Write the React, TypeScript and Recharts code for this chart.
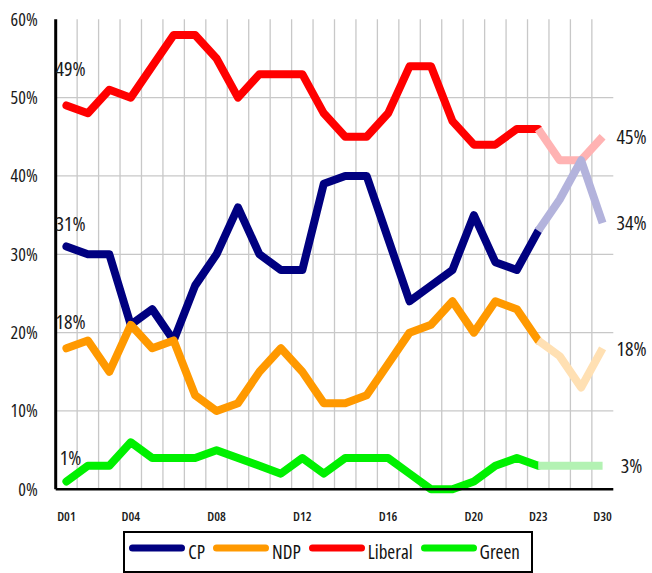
import React from 'react';
import { LineChart, Line, XAxis, YAxis, CartesianGrid, Legend } from 'recharts';

const categories = [
  'D01', 'D02', 'D03', 'D04', 'D05', 'D06', 'D07', 'D08', 'D09', 'D10', 'D11', 'D12', 'D13',
  'D14', 'D15', 'D16', 'D17', 'D18', 'D19', 'D20', 'D21', 'D22', 'D23', 'D26', 'D28', 'D30',
];
const shownTicks = ['D01', 'D04', 'D08', 'D12', 'D16', 'D20', 'D23', 'D30'];
const yTicks = [0, 10, 20, 30, 40, 50, 60];
const gridValues = [10, 20, 30, 40, 50];

const cpValues = [31, 30, 30, 21, 23, 19, 26, 30, 36, 30, 28, 28, 39, 40, 40, 32, 24, 26, 28, 35, 29, 28, 33];
const ndpValues = [18, 19, 15, 21, 18, 19, 12, 10, 11, 15, 18, 15, 11, 11, 12, 16, 20, 21, 24, 20, 24, 23, 19];
const liberalValues = [49, 48, 51, 50, 54, 58, 58, 55, 50, 53, 53, 53, 48, 45, 45, 48, 54, 54, 47, 44, 44, 46, 46];
const greenValues = [1, 3, 3, 6, 4, 4, 4, 5, 4, 3, 2, 4, 2, 4, 4, 4, 2, 0, 0, 1, 3, 4, 3];

// projection from D23 onwards
const cpProjection = [33, 37, 42, 34];
const ndpProjection = [19, 17, 13, 18];
const liberalProjection = [46, 42, 42, 45];
const greenProjection = [3, 3, 3, 3];

const FONT = "'Open Sans', 'DejaVu Sans', sans-serif";
const TEXT_STYLE: React.CSSProperties = { fontFamily: FONT, fontStretch: 'condensed' as any };
const Y_MAX = 60;

const series = [
  { key: 'cp', name: 'CP', color: '#000080', light: '#b3b3dc', values: cpValues, proj: cpProjection, leftDy: -23 },
  { key: 'ndp', name: 'NDP', color: '#ff9900', light: '#ffe0b3', values: ndpValues, proj: ndpProjection, leftDy: -27 },
  { key: 'liberal', name: 'Liberal', color: '#ff0000', light: '#ffb3b3', values: liberalValues, proj: liberalProjection, leftDy: -37 },
  { key: 'green', name: 'Green', color: '#00f000', light: '#b3f2b3', values: greenValues, proj: greenProjection, leftDy: -24 },
];

const projStart = cpValues.length - 1;

const data = categories.map((name, i) => {
  const row: Record<string, any> = { name };
  series.forEach((s) => {
    row[s.key] = i < s.values.length ? s.values[i] : null;
    row[s.key + 'Proj'] = i >= projStart ? s.proj[i - projStart] : null;
  });
  return row;
});

const lastIndex = categories.length - 1;

const makeLeftLabel = (dy: number) => (props: any) => {
  const { x, y, value, index } = props;
  if (index !== 0 || value == null) return null;
  return (
    <text x={x + 4} y={y + dy} textAnchor="middle" dominantBaseline="central" fontSize={20} fill="#1a1a1a" style={TEXT_STYLE}>
      {value}%
    </text>
  );
};

const rightLabel = (props: any) => {
  const { x, y, value, index } = props;
  if (index !== lastIndex || value == null) return null;
  return (
    <text x={x + 29} y={y} textAnchor="middle" dominantBaseline="central" fontSize={20} fill="#1a1a1a" style={TEXT_STYLE}>
      {value}%
    </text>
  );
};

const XTick = (props: any) => {
  const { x, y, payload } = props;
  if (!shownTicks.includes(payload.value)) return null;
  return (
    <text x={x} y={y} dy="0.71em" textAnchor="middle" fontSize={13} fontWeight={600} fill="#1a1a1a" style={TEXT_STYLE}>
      {payload.value}
    </text>
  );
};

const YTick = (props: any) => {
  const { x, y, payload } = props;
  return (
    <text x={x} y={y} dy="0.36em" textAnchor="end" fontSize={18} fill="#1a1a1a" style={TEXT_STYLE}>
      {`${payload.value}%`}
    </text>
  );
};

const LegendBox = () => (
  <div
    style={{
      boxSizing: 'border-box',
      width: 410,
      height: 42,
      border: '2px solid #000',
      display: 'flex',
      alignItems: 'center',
      paddingLeft: 4,
      ...TEXT_STYLE,
      fontSize: 19,
      color: '#111',
      background: '#fff',
    }}
  >
    {series.map((s, i) => (
      <div key={s.key} style={{ display: 'flex', alignItems: 'center', marginLeft: i === 0 ? 0 : 8 }}>
        <svg width={56} height={10} style={{ position: 'relative', top: -4 }}>
          <line x1={3.5} y1={5} x2={52.5} y2={5} stroke={s.color} strokeWidth={7} strokeLinecap="round" />
        </svg>
        <span style={{ marginLeft: 3 }}>{s.name}</span>
      </div>
    ))}
  </div>
);

export default function App() {
  return (
    <div style={{ width: 652, height: 573 }}>
      <style>{'html, body { margin: 0; padding: 0; } #root { width: 652px; height: 573px; }'}</style>
      <LineChart
        width={652}
        height={573}
        data={data}
        margin={{ top: 19.3, right: 38.7, left: 15.7, bottom: 43.7 }}
      >
        <CartesianGrid
          stroke="#c8c8c8"
          strokeWidth={1.3}
          horizontalCoordinatesGenerator={({ offset }: any) =>
            gridValues.map((v) => offset.top + offset.height * (1 - v / Y_MAX))
          }
          verticalCoordinatesGenerator={({ offset }: any) =>
            categories.slice(1).map((_, i) => offset.left + ((i + 1) * offset.width) / categories.length)
          }
        />
        <XAxis
          dataKey="name"
          scale="band"
          interval={0}
          height={40}
          tickLine={false}
          tickSize={20}
          tickMargin={2}
          axisLine={{ stroke: '#000', strokeWidth: 2.5 }}
          tick={<XTick />}
        />
        <YAxis
          domain={[0, Y_MAX]}
          ticks={yTicks}
          width={40}
          tickLine={false}
          tickSize={16}
          tickMargin={2}
          axisLine={{ stroke: '#000', strokeWidth: 3 }}
          tick={<YTick />}
        />
        <Legend
          layout="horizontal"
          verticalAlign="middle"
          align="center"
          content={() => <LegendBox />}
          wrapperStyle={{ left: 123.3, top: 530.5, width: 410, height: 42 }}
        />
        {series.map((s) => (
          <Line
            key={s.key}
            dataKey={s.key}
            name={s.name}
            stroke={s.color}
            strokeWidth={8}
            strokeLinejoin="round"
            strokeLinecap="round"
            dot={false}
            activeDot={false}
            isAnimationActive={false}
            label={makeLeftLabel(s.leftDy)}
          />
        ))}
        {[series[2], series[0], series[1], series[3]].map((s) => (
          <Line
            key={s.key + 'Proj'}
            dataKey={s.key + 'Proj'}
            name={s.name + ' projection'}
            legendType="none"
            stroke={s.light}
            strokeWidth={8}
            strokeLinejoin="round"
            strokeLinecap="butt"
            dot={false}
            activeDot={false}
            isAnimationActive={false}
            label={rightLabel}
          />
        ))}
      </LineChart>
    </div>
  );
}
